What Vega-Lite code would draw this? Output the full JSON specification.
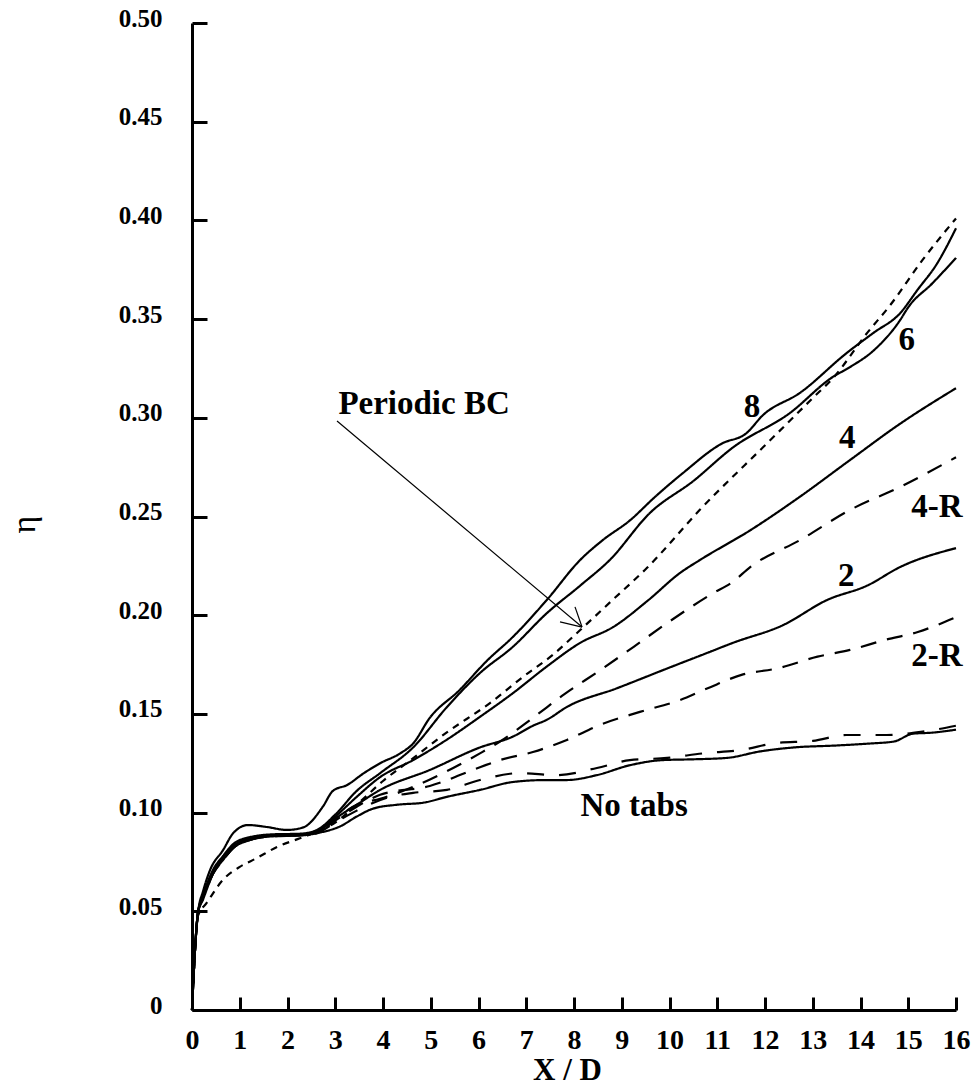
{
  "$schema": "https://vega.github.io/schema/vega-lite/v6.json",
  "width": 764,
  "height": 987,
  "autosize": {"type": "none"},
  "padding": {"left": 192, "top": 23, "right": 20, "bottom": 81},
  "background": "white",
  "config": {"view": {"stroke": null}, "axis": {"grid": false}},
  "datasets": {
    "curves": [
      {"s": "8", "x": 0, "eta": 0}, {"s": "8", "x": 0.05, "eta": 0.025}, {"s": "8", "x": 0.13, "eta": 0.05}, {"s": "8", "x": 0.23, "eta": 0.06}, {"s": "8", "x": 0.38, "eta": 0.071}, {"s": "8", "x": 0.65, "eta": 0.081}, {"s": "8", "x": 0.86, "eta": 0.0895}, {"s": "8", "x": 1.17, "eta": 0.0937}, {"s": "8", "x": 1.57, "eta": 0.0927}, {"s": "8", "x": 1.99, "eta": 0.0912}, {"s": "8", "x": 2.33, "eta": 0.0925}, {"s": "8", "x": 2.74, "eta": 0.103}, {"s": "8", "x": 2.95, "eta": 0.111}, {"s": "8", "x": 3.25, "eta": 0.114}, {"s": "8", "x": 3.6, "eta": 0.12}, {"s": "8", "x": 3.94, "eta": 0.125}, {"s": "8", "x": 4.36, "eta": 0.13}, {"s": "8", "x": 4.63, "eta": 0.135}, {"s": "8", "x": 4.98, "eta": 0.148}, {"s": "8", "x": 5.6, "eta": 0.162}, {"s": "8", "x": 6.18, "eta": 0.177}, {"s": "8", "x": 6.72, "eta": 0.189}, {"s": "8", "x": 7.43, "eta": 0.2077}, {"s": "8", "x": 8.13, "eta": 0.228}, {"s": "8", "x": 8.6, "eta": 0.238}, {"s": "8", "x": 9.17, "eta": 0.248}, {"s": "8", "x": 9.7, "eta": 0.26}, {"s": "8", "x": 10.28, "eta": 0.272}, {"s": "8", "x": 11.1, "eta": 0.287}, {"s": "8", "x": 11.6, "eta": 0.292}, {"s": "8", "x": 11.96, "eta": 0.3014}, {"s": "8", "x": 12.73, "eta": 0.3126}, {"s": "8", "x": 13.72, "eta": 0.333}, {"s": "8", "x": 14.27, "eta": 0.343}, {"s": "8", "x": 14.83, "eta": 0.353}, {"s": "8", "x": 15.2, "eta": 0.365}, {"s": "8", "x": 15.6, "eta": 0.378}, {"s": "8", "x": 16, "eta": 0.396},

      {"s": "6", "x": 0, "eta": 0}, {"s": "6", "x": 0.05, "eta": 0.025}, {"s": "6", "x": 0.13, "eta": 0.05}, {"s": "6", "x": 0.23, "eta": 0.058}, {"s": "6", "x": 0.44, "eta": 0.071}, {"s": "6", "x": 0.65, "eta": 0.078}, {"s": "6", "x": 0.86, "eta": 0.084}, {"s": "6", "x": 1.2, "eta": 0.0875}, {"s": "6", "x": 1.7, "eta": 0.089}, {"s": "6", "x": 2.26, "eta": 0.0893}, {"s": "6", "x": 2.6, "eta": 0.091}, {"s": "6", "x": 3.0, "eta": 0.099}, {"s": "6", "x": 3.45, "eta": 0.111}, {"s": "6", "x": 3.94, "eta": 0.12}, {"s": "6", "x": 4.63, "eta": 0.133}, {"s": "6", "x": 5.34, "eta": 0.1535}, {"s": "6", "x": 6.03, "eta": 0.1707}, {"s": "6", "x": 6.72, "eta": 0.184}, {"s": "6", "x": 7.43, "eta": 0.201}, {"s": "6", "x": 8.13, "eta": 0.215}, {"s": "6", "x": 8.75, "eta": 0.228}, {"s": "6", "x": 9.59, "eta": 0.2518}, {"s": "6", "x": 10.5, "eta": 0.268}, {"s": "6", "x": 11.33, "eta": 0.285}, {"s": "6", "x": 12.52, "eta": 0.3024}, {"s": "6", "x": 13.42, "eta": 0.3207}, {"s": "6", "x": 13.78, "eta": 0.3257}, {"s": "6", "x": 14.27, "eta": 0.334}, {"s": "6", "x": 14.83, "eta": 0.3495}, {"s": "6", "x": 15.0, "eta": 0.356}, {"s": "6", "x": 15.5, "eta": 0.368}, {"s": "6", "x": 16, "eta": 0.381},

      {"s": "4", "x": 0, "eta": 0}, {"s": "4", "x": 0.05, "eta": 0.025}, {"s": "4", "x": 0.13, "eta": 0.05}, {"s": "4", "x": 0.23, "eta": 0.057}, {"s": "4", "x": 0.44, "eta": 0.07}, {"s": "4", "x": 0.65, "eta": 0.0775}, {"s": "4", "x": 0.86, "eta": 0.083}, {"s": "4", "x": 1.2, "eta": 0.087}, {"s": "4", "x": 1.7, "eta": 0.0885}, {"s": "4", "x": 2.26, "eta": 0.0888}, {"s": "4", "x": 2.6, "eta": 0.0905}, {"s": "4", "x": 3.0, "eta": 0.098}, {"s": "4", "x": 3.45, "eta": 0.108}, {"s": "4", "x": 3.94, "eta": 0.118}, {"s": "4", "x": 4.63, "eta": 0.1266}, {"s": "4", "x": 5.34, "eta": 0.137}, {"s": "4", "x": 6.03, "eta": 0.1485}, {"s": "4", "x": 6.72, "eta": 0.1605}, {"s": "4", "x": 7.43, "eta": 0.174}, {"s": "4", "x": 8.13, "eta": 0.186}, {"s": "4", "x": 8.82, "eta": 0.194}, {"s": "4", "x": 9.56, "eta": 0.2077}, {"s": "4", "x": 10.22, "eta": 0.2214}, {"s": "4", "x": 10.64, "eta": 0.228}, {"s": "4", "x": 11.69, "eta": 0.243}, {"s": "4", "x": 12.73, "eta": 0.26}, {"s": "4", "x": 13.78, "eta": 0.2786}, {"s": "4", "x": 14.83, "eta": 0.297}, {"s": "4", "x": 16, "eta": 0.315},

      {"s": "Periodic BC", "x": 0, "eta": 0}, {"s": "Periodic BC", "x": 0.05, "eta": 0.025}, {"s": "Periodic BC", "x": 0.13, "eta": 0.048}, {"s": "Periodic BC", "x": 0.3, "eta": 0.054}, {"s": "Periodic BC", "x": 0.65, "eta": 0.066}, {"s": "Periodic BC", "x": 1.0, "eta": 0.0725}, {"s": "Periodic BC", "x": 1.36, "eta": 0.077}, {"s": "Periodic BC", "x": 1.78, "eta": 0.0826}, {"s": "Periodic BC", "x": 2.26, "eta": 0.087}, {"s": "Periodic BC", "x": 2.53, "eta": 0.0895}, {"s": "Periodic BC", "x": 3.0, "eta": 0.095}, {"s": "Periodic BC", "x": 3.45, "eta": 0.104}, {"s": "Periodic BC", "x": 4.0, "eta": 0.116}, {"s": "Periodic BC", "x": 4.6, "eta": 0.127}, {"s": "Periodic BC", "x": 5.3, "eta": 0.14}, {"s": "Periodic BC", "x": 6.24, "eta": 0.1555}, {"s": "Periodic BC", "x": 6.93, "eta": 0.1687}, {"s": "Periodic BC", "x": 7.56, "eta": 0.18}, {"s": "Periodic BC", "x": 8.13, "eta": 0.1925}, {"s": "Periodic BC", "x": 8.82, "eta": 0.208}, {"s": "Periodic BC", "x": 9.53, "eta": 0.224}, {"s": "Periodic BC", "x": 10.64, "eta": 0.2535}, {"s": "Periodic BC", "x": 12.04, "eta": 0.287}, {"s": "Periodic BC", "x": 13.0, "eta": 0.31}, {"s": "Periodic BC", "x": 13.42, "eta": 0.32}, {"s": "Periodic BC", "x": 14.14, "eta": 0.343}, {"s": "Periodic BC", "x": 14.62, "eta": 0.357}, {"s": "Periodic BC", "x": 15.3, "eta": 0.38}, {"s": "Periodic BC", "x": 16, "eta": 0.401},

      {"s": "4-R", "x": 0, "eta": 0}, {"s": "4-R", "x": 0.05, "eta": 0.025}, {"s": "4-R", "x": 0.13, "eta": 0.05}, {"s": "4-R", "x": 0.23, "eta": 0.057}, {"s": "4-R", "x": 0.44, "eta": 0.07}, {"s": "4-R", "x": 0.65, "eta": 0.077}, {"s": "4-R", "x": 0.86, "eta": 0.083}, {"s": "4-R", "x": 1.2, "eta": 0.0868}, {"s": "4-R", "x": 1.7, "eta": 0.0885}, {"s": "4-R", "x": 2.26, "eta": 0.0888}, {"s": "4-R", "x": 2.6, "eta": 0.0903}, {"s": "4-R", "x": 3.0, "eta": 0.097}, {"s": "4-R", "x": 3.45, "eta": 0.104}, {"s": "4-R", "x": 3.94, "eta": 0.107}, {"s": "4-R", "x": 4.63, "eta": 0.113}, {"s": "4-R", "x": 5.34, "eta": 0.121}, {"s": "4-R", "x": 6.03, "eta": 0.13}, {"s": "4-R", "x": 6.45, "eta": 0.136}, {"s": "4-R", "x": 7.14, "eta": 0.148}, {"s": "4-R", "x": 7.8, "eta": 0.16}, {"s": "4-R", "x": 8.54, "eta": 0.172}, {"s": "4-R", "x": 9.25, "eta": 0.184}, {"s": "4-R", "x": 9.95, "eta": 0.196}, {"s": "4-R", "x": 10.9, "eta": 0.211}, {"s": "4-R", "x": 11.33, "eta": 0.217}, {"s": "4-R", "x": 11.69, "eta": 0.2244}, {"s": "4-R", "x": 12.73, "eta": 0.238}, {"s": "4-R", "x": 13.78, "eta": 0.2533}, {"s": "4-R", "x": 14.83, "eta": 0.265}, {"s": "4-R", "x": 16, "eta": 0.28},

      {"s": "2", "x": 0, "eta": 0}, {"s": "2", "x": 0.05, "eta": 0.025}, {"s": "2", "x": 0.13, "eta": 0.05}, {"s": "2", "x": 0.23, "eta": 0.057}, {"s": "2", "x": 0.44, "eta": 0.0695}, {"s": "2", "x": 0.65, "eta": 0.0765}, {"s": "2", "x": 0.86, "eta": 0.0825}, {"s": "2", "x": 1.2, "eta": 0.0865}, {"s": "2", "x": 1.7, "eta": 0.088}, {"s": "2", "x": 2.26, "eta": 0.0885}, {"s": "2", "x": 2.6, "eta": 0.09}, {"s": "2", "x": 3.0, "eta": 0.097}, {"s": "2", "x": 3.45, "eta": 0.104}, {"s": "2", "x": 3.94, "eta": 0.1115}, {"s": "2", "x": 4.98, "eta": 0.1216}, {"s": "2", "x": 6.03, "eta": 0.133}, {"s": "2", "x": 6.72, "eta": 0.1385}, {"s": "2", "x": 7.14, "eta": 0.144}, {"s": "2", "x": 7.43, "eta": 0.147}, {"s": "2", "x": 7.85, "eta": 0.1535}, {"s": "2", "x": 8.9, "eta": 0.163}, {"s": "2", "x": 9.95, "eta": 0.173}, {"s": "2", "x": 10.8, "eta": 0.181}, {"s": "2", "x": 11.33, "eta": 0.186}, {"s": "2", "x": 12.38, "eta": 0.195}, {"s": "2", "x": 13.3, "eta": 0.2077}, {"s": "2", "x": 14.14, "eta": 0.215}, {"s": "2", "x": 14.83, "eta": 0.2244}, {"s": "2", "x": 16, "eta": 0.234},

      {"s": "2-R", "x": 0, "eta": 0}, {"s": "2-R", "x": 0.05, "eta": 0.025}, {"s": "2-R", "x": 0.13, "eta": 0.05}, {"s": "2-R", "x": 0.23, "eta": 0.057}, {"s": "2-R", "x": 0.44, "eta": 0.069}, {"s": "2-R", "x": 0.65, "eta": 0.076}, {"s": "2-R", "x": 0.86, "eta": 0.082}, {"s": "2-R", "x": 1.2, "eta": 0.086}, {"s": "2-R", "x": 1.7, "eta": 0.088}, {"s": "2-R", "x": 2.26, "eta": 0.0885}, {"s": "2-R", "x": 2.6, "eta": 0.0898}, {"s": "2-R", "x": 3.0, "eta": 0.096}, {"s": "2-R", "x": 3.45, "eta": 0.103}, {"s": "2-R", "x": 3.94, "eta": 0.109}, {"s": "2-R", "x": 4.98, "eta": 0.1135}, {"s": "2-R", "x": 6.03, "eta": 0.123}, {"s": "2-R", "x": 6.45, "eta": 0.1266}, {"s": "2-R", "x": 7.14, "eta": 0.1307}, {"s": "2-R", "x": 7.85, "eta": 0.1368}, {"s": "2-R", "x": 8.54, "eta": 0.1444}, {"s": "2-R", "x": 9.38, "eta": 0.151}, {"s": "2-R", "x": 10.22, "eta": 0.157}, {"s": "2-R", "x": 10.8, "eta": 0.163}, {"s": "2-R", "x": 11.54, "eta": 0.17}, {"s": "2-R", "x": 12.25, "eta": 0.173}, {"s": "2-R", "x": 13.1, "eta": 0.179}, {"s": "2-R", "x": 13.78, "eta": 0.1824}, {"s": "2-R", "x": 14.5, "eta": 0.1874}, {"s": "2-R", "x": 15.2, "eta": 0.1915}, {"s": "2-R", "x": 16, "eta": 0.199},

      {"s": "No tabs (dashed)", "x": 0, "eta": 0}, {"s": "No tabs (dashed)", "x": 0.05, "eta": 0.025}, {"s": "No tabs (dashed)", "x": 0.13, "eta": 0.05}, {"s": "No tabs (dashed)", "x": 0.23, "eta": 0.056}, {"s": "No tabs (dashed)", "x": 0.44, "eta": 0.069}, {"s": "No tabs (dashed)", "x": 0.65, "eta": 0.076}, {"s": "No tabs (dashed)", "x": 0.86, "eta": 0.082}, {"s": "No tabs (dashed)", "x": 1.2, "eta": 0.086}, {"s": "No tabs (dashed)", "x": 1.7, "eta": 0.0882}, {"s": "No tabs (dashed)", "x": 2.26, "eta": 0.0885}, {"s": "No tabs (dashed)", "x": 2.6, "eta": 0.0895}, {"s": "No tabs (dashed)", "x": 3.0, "eta": 0.095}, {"s": "No tabs (dashed)", "x": 3.45, "eta": 0.101}, {"s": "No tabs (dashed)", "x": 4.15, "eta": 0.108}, {"s": "No tabs (dashed)", "x": 4.63, "eta": 0.11}, {"s": "No tabs (dashed)", "x": 5.34, "eta": 0.1115}, {"s": "No tabs (dashed)", "x": 6.03, "eta": 0.1165}, {"s": "No tabs (dashed)", "x": 6.87, "eta": 0.12}, {"s": "No tabs (dashed)", "x": 7.64, "eta": 0.119}, {"s": "No tabs (dashed)", "x": 8.48, "eta": 0.1226}, {"s": "No tabs (dashed)", "x": 9.17, "eta": 0.1266}, {"s": "No tabs (dashed)", "x": 9.95, "eta": 0.1277}, {"s": "No tabs (dashed)", "x": 10.7, "eta": 0.13}, {"s": "No tabs (dashed)", "x": 11.5, "eta": 0.1317}, {"s": "No tabs (dashed)", "x": 12.25, "eta": 0.1353}, {"s": "No tabs (dashed)", "x": 13.0, "eta": 0.1363}, {"s": "No tabs (dashed)", "x": 13.7, "eta": 0.1393}, {"s": "No tabs (dashed)", "x": 14.55, "eta": 0.1393}, {"s": "No tabs (dashed)", "x": 15.3, "eta": 0.141}, {"s": "No tabs (dashed)", "x": 16, "eta": 0.144},

      {"s": "No tabs", "x": 0, "eta": 0}, {"s": "No tabs", "x": 0.05, "eta": 0.025}, {"s": "No tabs", "x": 0.13, "eta": 0.05}, {"s": "No tabs", "x": 0.23, "eta": 0.056}, {"s": "No tabs", "x": 0.44, "eta": 0.069}, {"s": "No tabs", "x": 0.65, "eta": 0.076}, {"s": "No tabs", "x": 0.86, "eta": 0.082}, {"s": "No tabs", "x": 1.2, "eta": 0.086}, {"s": "No tabs", "x": 1.7, "eta": 0.0885}, {"s": "No tabs", "x": 2.26, "eta": 0.0885}, {"s": "No tabs", "x": 2.7, "eta": 0.09}, {"s": "No tabs", "x": 3.1, "eta": 0.093}, {"s": "No tabs", "x": 3.45, "eta": 0.098}, {"s": "No tabs", "x": 3.79, "eta": 0.102}, {"s": "No tabs", "x": 4.3, "eta": 0.104}, {"s": "No tabs", "x": 4.84, "eta": 0.105}, {"s": "No tabs", "x": 5.34, "eta": 0.108}, {"s": "No tabs", "x": 6.03, "eta": 0.1115}, {"s": "No tabs", "x": 6.72, "eta": 0.1155}, {"s": "No tabs", "x": 7.43, "eta": 0.1165}, {"s": "No tabs", "x": 7.85, "eta": 0.1165}, {"s": "No tabs", "x": 8.48, "eta": 0.119}, {"s": "No tabs", "x": 9.17, "eta": 0.124}, {"s": "No tabs", "x": 9.86, "eta": 0.1266}, {"s": "No tabs", "x": 10.5, "eta": 0.127}, {"s": "No tabs", "x": 11.2, "eta": 0.1277}, {"s": "No tabs", "x": 11.9, "eta": 0.131}, {"s": "No tabs", "x": 12.6, "eta": 0.133}, {"s": "No tabs", "x": 13.5, "eta": 0.134}, {"s": "No tabs", "x": 14.2, "eta": 0.135}, {"s": "No tabs", "x": 14.7, "eta": 0.136}, {"s": "No tabs", "x": 15.1, "eta": 0.14}, {"s": "No tabs", "x": 15.5, "eta": 0.1405}, {"s": "No tabs", "x": 16, "eta": 0.142}
    ],
    "notes": [
      {"label": "8", "x": 11.73, "eta": 0.3055},
      {"label": "6", "x": 14.97, "eta": 0.3394},
      {"label": "4", "x": 13.72, "eta": 0.2898},
      {"label": "4-R", "x": 15.6, "eta": 0.2548},
      {"label": "2", "x": 13.7, "eta": 0.2199},
      {"label": "2-R", "x": 15.6, "eta": 0.1793},
      {"label": "No tabs", "x": 9.26, "eta": 0.1033},
      {"label": "Periodic BC", "x": 4.86, "eta": 0.3072}
    ],
    "arrow": [
      {"x": 3.037, "eta": 0.2984, "x_end": 8.168, "eta_end": 0.194},
      {"x": 8.168, "eta": 0.194, "x_end": 8.021, "eta_end": 0.2042},
      {"x": 8.168, "eta": 0.194, "x_end": 7.707, "eta_end": 0.1966}
    ]
  },
  "layer": [
    {
      "data": {"name": "curves"},
      "mark": {"type": "line", "interpolate": "monotone", "strokeWidth": 2.2, "color": "black"},
      "encoding": {
        "x": {
          "field": "x", "type": "quantitative",
          "scale": {"domain": [0, 16], "nice": false, "zero": false},
          "axis": {
            "title": "X / D",
            "values": [0, 1, 2, 3, 4, 5, 6, 7, 8, 9, 10, 11, 12, 13, 14, 15, 16],
            "format": "d",
            "labelFont": "Liberation Serif", "labelFontWeight": "bold", "labelFontSize": 28, "labelColor": "black",
            "labelFlush": false, "labelOverlap": false, "labelPadding": 29, "labelBaseline": "top",
            "domainColor": "black", "domainWidth": 3,
            "tickColor": "black", "tickWidth": 3, "tickSize": -13,
            "titleFont": "Liberation Serif", "titleFontWeight": "bold", "titleFontSize": 31, "titleColor": "black",
            "titleX": 375, "titleY": 69, "titleBaseline": "alphabetic", "titleAlign": "center"
          }
        },
        "y": {
          "field": "eta", "type": "quantitative",
          "scale": {"domain": [0, 0.5], "nice": false},
          "axis": {
            "title": "η",
            "values": [0, 0.05, 0.1, 0.15, 0.2, 0.25, 0.3, 0.35, 0.4, 0.45, 0.5],
            "labelExpr": "datum.value == 0 ? '0' : format(datum.value, '.2f')",
            "labelFont": "Liberation Serif", "labelFontWeight": "bold", "labelFontSize": 25, "labelColor": "black",
            "labelFlush": false, "labelOverlap": false, "labelPadding": 45, "labelOffset": -5,
            "domainColor": "black", "domainWidth": 3,
            "tickColor": "black", "tickWidth": 3, "tickSize": -15,
            "titleFont": "Liberation Serif", "titleFontWeight": "normal", "titleFontSize": 34, "titleColor": "black",
            "titleAngle": -90, "titleX": -168, "titleY": 501, "titleAlign": "center", "titleBaseline": "middle"
          }
        },
        "detail": {"field": "s"},
        "strokeDash": {
          "field": "s", "type": "nominal",
          "scale": {
            "domain": ["8", "6", "4", "2", "No tabs", "Periodic BC", "4-R", "2-R", "No tabs (dashed)"],
            "range": [[1, 0], [1, 0], [1, 0], [1, 0], [1, 0], [7, 6], [16, 11], [16, 11], [17, 15]]
          },
          "legend": null
        }
      }
    },
    {
      "data": {"name": "arrow"},
      "mark": {"type": "rule", "color": "black", "strokeWidth": 1.2},
      "encoding": {
        "x": {"field": "x", "type": "quantitative"},
        "y": {"field": "eta", "type": "quantitative"},
        "x2": {"field": "x_end"},
        "y2": {"field": "eta_end"}
      }
    },
    {
      "data": {"name": "notes"},
      "mark": {"type": "text", "font": "Liberation Serif", "fontWeight": "bold", "fontSize": 33, "color": "black", "align": "center", "baseline": "middle"},
      "encoding": {
        "x": {"field": "x", "type": "quantitative"},
        "y": {"field": "eta", "type": "quantitative"},
        "text": {"field": "label"}
      }
    }
  ]
}
